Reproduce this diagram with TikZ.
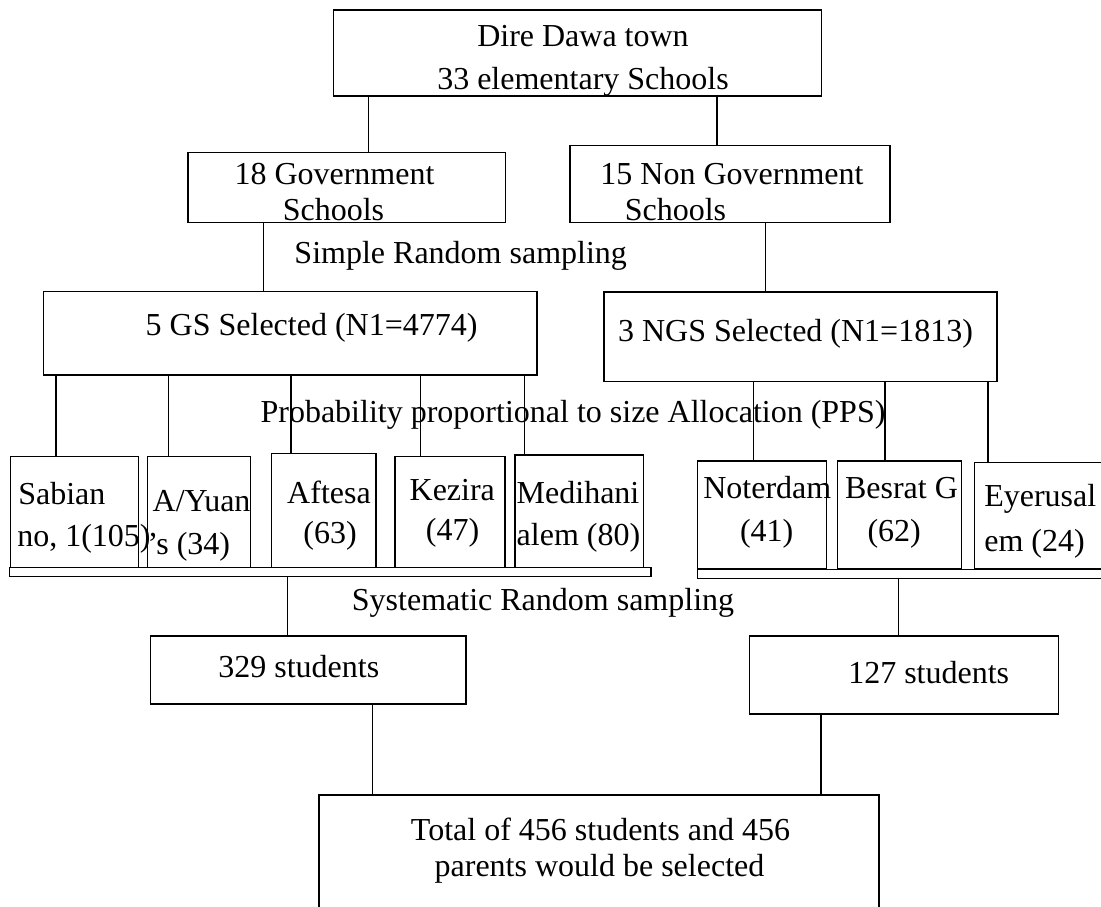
\documentclass[tikz,border=0pt]{standalone}
\usepackage{fontspec}
\setmainfont{Liberation Serif}
\usetikzlibrary{fit}
\begin{document}
\begin{tikzpicture}[x=1pt,y=-1pt,
  box/.style={draw, line width=1.5pt, inner sep=0pt, outer sep=0pt},
  conn/.style={draw, line width=1.3pt},
  txt/.style={inner sep=0pt, outer sep=0pt, font=\fontsize{32}{38}\selectfont},
  ctr/.style={txt, anchor=base},
  lft/.style={txt, anchor=base west}]
\clip (0,0) rectangle (1101,907);
\fill[white] (0,0) rectangle (1101,907);

% boxes
\node[box, fit={(333.6,10) (821.6,96)}] (top) {};
\node[box, fit={(188,152.7) (505.6,222.3)}] (gov) {};
\node[box, fit={(570,145.7) (890,222.3)}] (ngov) {};
\node[box, fit={(43.6,291.7) (537,375)}] (gs) {};
\node[box, fit={(604,292) (997,381.7)}] (ngs) {};
\node[box, fit={(10.7,456.7) (138.3,567.3)}] (sabian) {};
\node[box, fit={(147.3,456.7) (250.7,567.3)}] (ayuan) {};
\node[box, fit={(271.7,453.3) (376,567.3)}] (aftesa) {};
\node[box, fit={(395,456.7) (505,567.3)}] (kezira) {};
\node[box, fit={(515,455) (643.3,567.3)}] (medihani) {};
\node[box, fit={(9.3,567.3) (651,576.7)}] (lbar) {};
\node[box, fit={(697.7,461) (826.7,569)}] (noterdam) {};
\node[box, fit={(837.7,461) (961.7,569)}] (besrat) {};
\node[box, fit={(974.3,462.7) (1110,569)}] (eyerusal) {};
\node[box, fit={(697.7,569.3) (1110,578.3)}] (rbar) {};
\node[box, fit={(150.7,636) (466,704)}] (bA) {};
\node[box, fit={(749.3,636) (1058.7,714)}] (bB) {};
\node[box, fit={(319,795) (879,940)}] (total) {};

% connectors
\draw[conn] (top.south -| 368.7,0) -- (gov.north -| 368.7,0);
\draw[conn] (top.south -| 717,0) -- (ngov.north -| 717,0);
\draw[conn] (gov.south -| 263.5,0) -- (gs.north -| 263.5,0);
\draw[conn] (ngov.south -| 765.5,0) -- (ngs.north -| 765.5,0);
\draw[conn] (gs.south -| 56,0) -- (sabian.north -| 56,0);
\draw[conn] (gs.south -| 168.6,0) -- (ayuan.north -| 168.6,0);
\draw[conn] (gs.south -| 291,0) -- (aftesa.north -| 291,0);
\draw[conn] (gs.south -| 420.7,0) -- (kezira.north -| 420.7,0);
\draw[conn] (gs.south -| 524.6,0) -- (medihani.north -| 524.6,0);
\draw[conn] (ngs.south -| 753.6,0) -- (noterdam.north -| 753.6,0);
\draw[conn] (ngs.south -| 885,0) -- (besrat.north -| 885,0);
\draw[conn] (ngs.south -| 988,0) -- (eyerusal.north -| 988,0);
\draw[conn] (lbar.south -| 287.5,0) -- (bA.north -| 287.5,0);
\draw[conn] (rbar.south -| 898.5,0) -- (bB.north -| 898.5,0);
\draw[conn] (bA.south -| 372.7,0) -- (total.north -| 372.7,0);
\draw[conn] (bB.south -| 821,0) -- (total.north -| 821,0);

% texts
\node[ctr] (t1) at (583,47) {Dire Dawa town};
\node[ctr] (t2) at (583,89) {33 elementary Schools};
\node[ctr] (t3) at (334.5,184) {18 Government};
\node[ctr] (t4) at (333.5,220) {Schools};
\node[ctr] (t5) at (732,184) {15 Non Government};
\node[ctr] (t6) at (675.5,220) {Schools};
\node[ctr] (t7) at (460.7,263) {Simple Random sampling};
\node[ctr] (t8) at (311.6,335) {5 GS Selected (N1=4774)};
\node[ctr] (t9) at (795.5,341.7) {3 NGS Selected (N1=1813)};
\node[ctr] (t10) at (573,422.7) {Probability proportional to size Allocation (PPS)};
\node[lft] (s1) at (18.3,504) {Sabian};
\node[lft] (s2) at (17.3,546.7) {no, 1(105)};
\node[lft] (s3) at (152.7,511.7) {A/Yuan};
\node[lft] (s4) at (147.5,554) {’s (34)};
\node[ctr] (s5) at (329,503.3) {Aftesa};
\node[ctr] (s6) at (330,543) {(63)};
\node[ctr] (s7) at (452.3,500) {Kezira};
\node[ctr] (s8) at (452.5,540) {(47)};
\node[lft] (s9) at (516.7,503.3) {Medihani};
\node[lft] (s10) at (516.7,545) {alem (80)};
\node[lft] (s11) at (703.3,498.3) {Noterdam};
\node[ctr] (s12) at (766.7,541.7) {(41)};
\node[lft] (s13) at (845,498.3) {Besrat G};
\node[ctr] (s14) at (894.2,541.7) {(62)};
\node[lft] (s15) at (984.3,506.7) {Eyerusal};
\node[lft] (s16) at (984.3,551.7) {em (24)};
\node[ctr] (t11) at (543,610) {Systematic Random sampling};
\node[ctr] (t12) at (298.8,677.3) {329 students};
\node[ctr] (t13) at (928.7,683.3) {127 students};
\node[ctr] (t14) at (600.5,840) {Total of 456 students and 456};
\node[ctr] (t15) at (599.5,876.7) {parents would be selected};
\end{tikzpicture}
\end{document}
